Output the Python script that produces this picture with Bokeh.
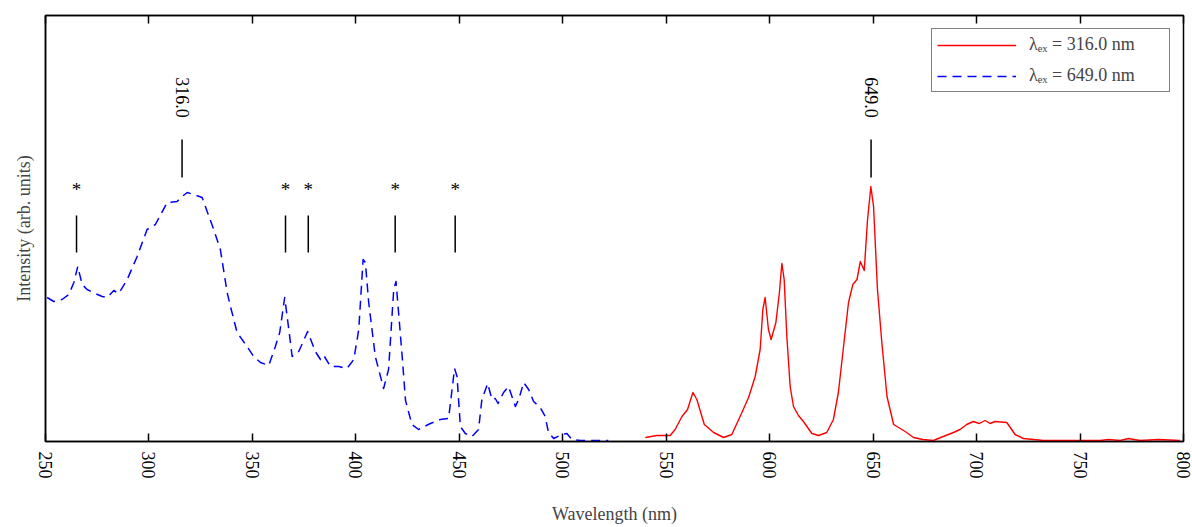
import math
from bokeh.plotting import figure
from bokeh.models import Range1d, LinearAxis, FixedTicker, Legend
from bokeh.core.properties import value
from bokeh.embed import file_html
from bokeh.resources import INLINE

# ---- data (intensity in arbitrary units) ----
exc_wavelength = [250.8, 254, 258, 261.3, 263.7, 265.6, 267.7, 270.1, 274, 277.4, 279.8, 283, 285.4,
                  289.5, 294.3, 299.1, 303.1, 308.8, 313.6, 316, 318.5, 321.6, 325.7, 331.3, 334.5,
                  337.8, 339.4, 342.6, 347.4, 350.6, 353.9, 357.9, 361.1, 363.2, 365.6, 367.6, 369.2,
                  372.4, 376.7, 380.4, 382.9, 384.5, 387.7, 391.7, 395.7, 399, 401.4, 403.5, 404.6,
                  406.2, 409.4, 413.4, 415.8, 418.3, 419.4, 421.2, 422.5, 424, 427.1, 430.3, 436,
                  440.8, 444.8, 446.5, 447.7, 448.9, 450.5, 452.9, 456.1, 459.3, 460.9, 463.7, 465.8,
                  467.4, 468.7, 471.4, 473.8, 477.1, 478.7, 481.1, 483.5, 485.9, 489.1, 491.5, 493.1,
                  495.6, 499.6, 502, 504.4, 508.5, 513.3, 518, 522]
exc_intensity = [143, 139, 141, 146, 158, 174, 156, 151, 147, 144, 143, 150, 147,
                 161, 184, 211, 216, 238, 239, 244, 248, 246, 243, 211, 191,
                 148, 134, 108, 94, 84, 78, 75, 94, 108, 143, 111, 84,
                 89, 109, 89, 81, 85, 74, 74, 72, 81, 111, 181, 178,
                 138, 84, 52, 71, 151, 159, 114, 81, 40, 16, 11, 17,
                 21, 22, 51, 72, 64, 14, 7, 4, 11, 41, 57, 41,
                 42, 37, 48, 54, 34, 41, 58, 51, 39, 33, 24, 8,
                 2, 6, 7, 1, 0, 0, 0, 0]

em_wavelength = [539.9, 545.5, 551.9, 554.3, 557.6, 560.3, 562.9, 564.8, 568.4, 572.9, 577.7, 581.7,
                 585.7, 589.8, 593, 595.4, 596.7, 597.8, 599.4, 600.7, 603, 604.7, 605.9, 607,
                 608.3, 609.9, 611.5, 613.9, 616.3, 620.4, 623.6, 627.6, 630.8, 633.2, 635.7, 638.1,
                 640.2, 642.2, 643.8, 645.7, 647.3, 648.9, 650.2, 652.1, 654.2, 656.7, 659.9, 663.1,
                 665.5, 669.5, 674, 679.1, 683.9, 688.8, 692, 695.2, 698.4, 701.3, 704.1, 706.5,
                 708.9, 714.6, 718.6, 722.6, 727.5, 732.3, 748.4, 759.7, 763.7, 769.4, 773.4, 779,
                 787.9, 798.3]
em_intensity = [3, 5, 5, 11, 24, 31, 48, 41, 16, 8, 3, 6,
                24, 43, 64, 91, 131, 143, 111, 101, 118, 148, 177, 161,
                104, 54, 34, 25, 19, 7, 5, 8, 21, 48, 94, 138,
                156, 161, 179, 170, 221, 254, 234, 151, 98, 44, 16, 12,
                9, 3, 1, 0, 4, 8, 11, 16, 19, 17, 20, 17,
                19, 18, 6, 2, 1, 0, 0, 0, 1, 0, 2, 0,
                1, 0]

star_positions = [265, 366, 377, 419, 448]
peak_positions = [316.0, 649.0]
peak_labels = ["316.0", "649.0"]
legend_labels = ["\u03bb\u2091\u2093 = 316.0 nm", "\u03bb\u2091\u2093 = 649.0 nm"]
x_ticks = [250, 300, 350, 400, 450, 500, 550, 600, 650, 700, 750, 800]

FONT = "'Liberation Serif', 'Times New Roman', serif"

p = figure(width=1192, height=527, output_backend="svg", toolbar_location=None,
           x_range=Range1d(250, 800), y_range=Range1d(-1, 425),
           min_border_left=45, min_border_right=9, min_border_top=15, min_border_bottom=86,
           x_axis_location="below")
p.xgrid.visible = False
p.ygrid.visible = False
p.outline_line_color = "black"
p.outline_line_width = 1.5
p.background_fill_color = "white"
p.border_fill_color = "white"

# bottom axis
xa = p.xaxis[0]
xa.ticker = FixedTicker(ticks=x_ticks)
xa.major_tick_in = 8
xa.major_tick_out = 0
xa.minor_tick_in = 0
xa.minor_tick_out = 0
xa.major_tick_line_width = 1.5
xa.axis_line_width = 1.5
xa.major_label_orientation = -math.pi / 2
xa.major_label_text_font = FONT
xa.major_label_text_font_size = "18px"
xa.major_label_text_color = "black"
xa.major_label_standoff = 10
xa.axis_label = "Wavelength (nm)"
xa.axis_label_text_font = FONT
xa.axis_label_text_font_size = "18px"
xa.axis_label_text_font_style = "normal"
xa.axis_label_standoff = 22

# left axis (line + title only)
ya = p.yaxis[0]
ya.ticker = FixedTicker(ticks=[])
ya.major_tick_in = 0
ya.major_tick_out = 0
ya.minor_tick_in = 0
ya.minor_tick_out = 0
ya.major_label_standoff = 0
ya.axis_line_width = 1.5
ya.axis_label = "Intensity (arb. units)"
ya.axis_label_text_font = FONT
ya.axis_label_text_font_size = "18px"
ya.axis_label_text_font_style = "normal"
ya.axis_label_standoff = 12

# top axis (ticks only)
top = LinearAxis(ticker=FixedTicker(ticks=x_ticks),
                 major_tick_in=8, major_tick_out=0, minor_tick_in=0, minor_tick_out=0,
                 major_label_overrides={t: "" for t in x_ticks}, major_label_standoff=0,
                 axis_line_width=1.5, major_tick_line_width=1.5)
p.add_layout(top, "above")

# curves
r_red = p.line(em_wavelength, em_intensity, line_color="red", line_width=1.4, line_join="round")
r_blue = p.line(exc_wavelength, exc_intensity, line_color="blue", line_width=1.5,
                line_dash="9 6", line_join="round")

# annotation marks for starred peaks
p.segment(x0=star_positions, x1=star_positions, y0=[188] * len(star_positions),
          y1=[225] * len(star_positions), line_color="black", line_width=1.5)
p.text(x=star_positions, y=[251] * len(star_positions), text=["*"] * len(star_positions),
       text_font=value(FONT), text_font_size="19px", text_align="center",
       text_baseline="alphabetic", text_color="black")

# peak markers
p.segment(x0=peak_positions, x1=peak_positions, y0=[263] * 2, y1=[301] * 2,
          line_color="black", line_width=1.5)
p.text(x=peak_positions, y=[343] * 2, text=peak_labels, angle=-math.pi / 2,
       text_font=value(FONT), text_font_size="18px", text_align="center",
       text_baseline="middle", text_color="black")

legend = Legend(items=[(legend_labels[0], [r_red]), (legend_labels[1], [r_blue])],
                location="top_right")
legend.border_line_color = "black"
legend.border_line_width = 1.2
legend.background_fill_alpha = 1.0
legend.label_text_font = FONT
legend.label_text_font_size = "18px"
legend.glyph_width = 79
legend.glyph_height = 20
legend.label_height = 20
legend.label_width = 135
legend.padding = 5
legend.spacing = 10
legend.margin = 13
legend.label_standoff = 13
p.add_layout(legend)

open("out.html", "w").write(file_html(p, INLINE))
